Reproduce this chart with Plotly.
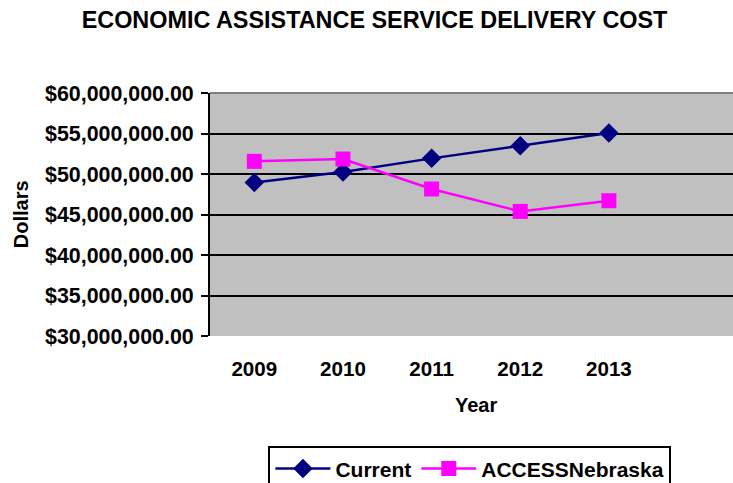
import plotly.graph_objects as go

years = ["2009", "2010", "2011", "2012", "2013"]
current = [48960000, 50250000, 51930000, 53490000, 55050000]
access = [51560000, 51850000, 48150000, 45380000, 46700000]
series_names = ["Current", "ACCESSNebraska"]

FONT = "Liberation Sans, Arial, sans-serif"
x_idx = list(range(len(years)))

fig = go.Figure()
fig.add_trace(go.Scatter(
    x=x_idx, y=current, name=series_names[0], mode="lines+markers",
    line=dict(color="#000080", width=2.5),
    marker=dict(symbol="diamond", size=15, color="#000080"),
    xaxis="x2",
))
fig.add_trace(go.Scatter(
    x=x_idx, y=access, name=series_names[1], mode="lines+markers",
    line=dict(color="#FF00FF", width=2.5),
    marker=dict(symbol="square", size=15, color="#FF00FF"),
    xaxis="x2",
))

xr = [-0.5, 5.4]
boundaries = [i - 0.5 for i in range(7)]

fig.update_layout(
    width=733, height=483,
    margin=dict(l=209.5, r=0, t=92.7, b=147.3, pad=0, autoexpand=False),
    paper_bgcolor="white",
    plot_bgcolor="#C0C0C0",
    font=dict(family=FONT, size=20, color="black", weight="bold"),
    title=dict(
        text="ECONOMIC ASSISTANCE SERVICE DELIVERY COST",
        x=0.511, xref="container", xanchor="center",
        y=0.9586, yref="container", yanchor="middle",
        font=dict(family=FONT, size=23.4, color="black", weight="bold"),
    ),
    xaxis=dict(
        range=xr, tickmode="array", tickvals=boundaries,
        showticklabels=False, ticks="outside", ticklen=7, tickwidth=2,
        tickcolor="black", showgrid=False, zeroline=False,
        showline=True, linecolor="black", linewidth=2,
    ),
    xaxis2=dict(
        range=xr, overlaying="x", anchor="y", side="bottom",
        tickmode="array", tickvals=x_idx, ticktext=years,
        ticks="", showgrid=False, zeroline=False, showline=False,
        ticklabelstandoff=18,
        tickfont=dict(family=FONT, size=20.6, color="black", weight="bold"),
    ),
    yaxis=dict(
        range=[30000000, 60000000], dtick=5000000, tick0=30000000,
        tickformat="$,.2f", ticks="outside", ticklen=7, tickwidth=2,
        tickcolor="black", showgrid=True, gridcolor="black", gridwidth=2,
        zeroline=False, showline=True, linecolor="black", linewidth=2,
        ticklabelstandoff=3,
        tickfont=dict(family=FONT, size=21.4, color="black", weight="bold"),
    ),
    legend=dict(
        orientation="h", x=0.1117, xanchor="left", y=-0.454, yanchor="top",
        bgcolor="white", bordercolor="black", borderwidth=2,
        itemwidth=55,
        font=dict(family=FONT, size=21, color="black", weight="bold"),
    ),
    showlegend=True,
    shapes=[dict(type="line", xref="paper", yref="paper", x0=0, x1=1, y0=1, y1=1,
                 line=dict(color="#808080", width=2))],
    annotations=[
        dict(text="Dollars", xref="paper", yref="paper", x=-0.362, y=0.5,
             textangle=-90, showarrow=False, xanchor="center", yanchor="middle",
             font=dict(family=FONT, size=20, color="black", weight="bold")),
        dict(text="Year", xref="paper", yref="paper", x=0.508, y=-0.285,
             showarrow=False, xanchor="center", yanchor="middle",
             font=dict(family=FONT, size=20, color="black", weight="bold")),
    ],
)

fig.write_html("out.html")
